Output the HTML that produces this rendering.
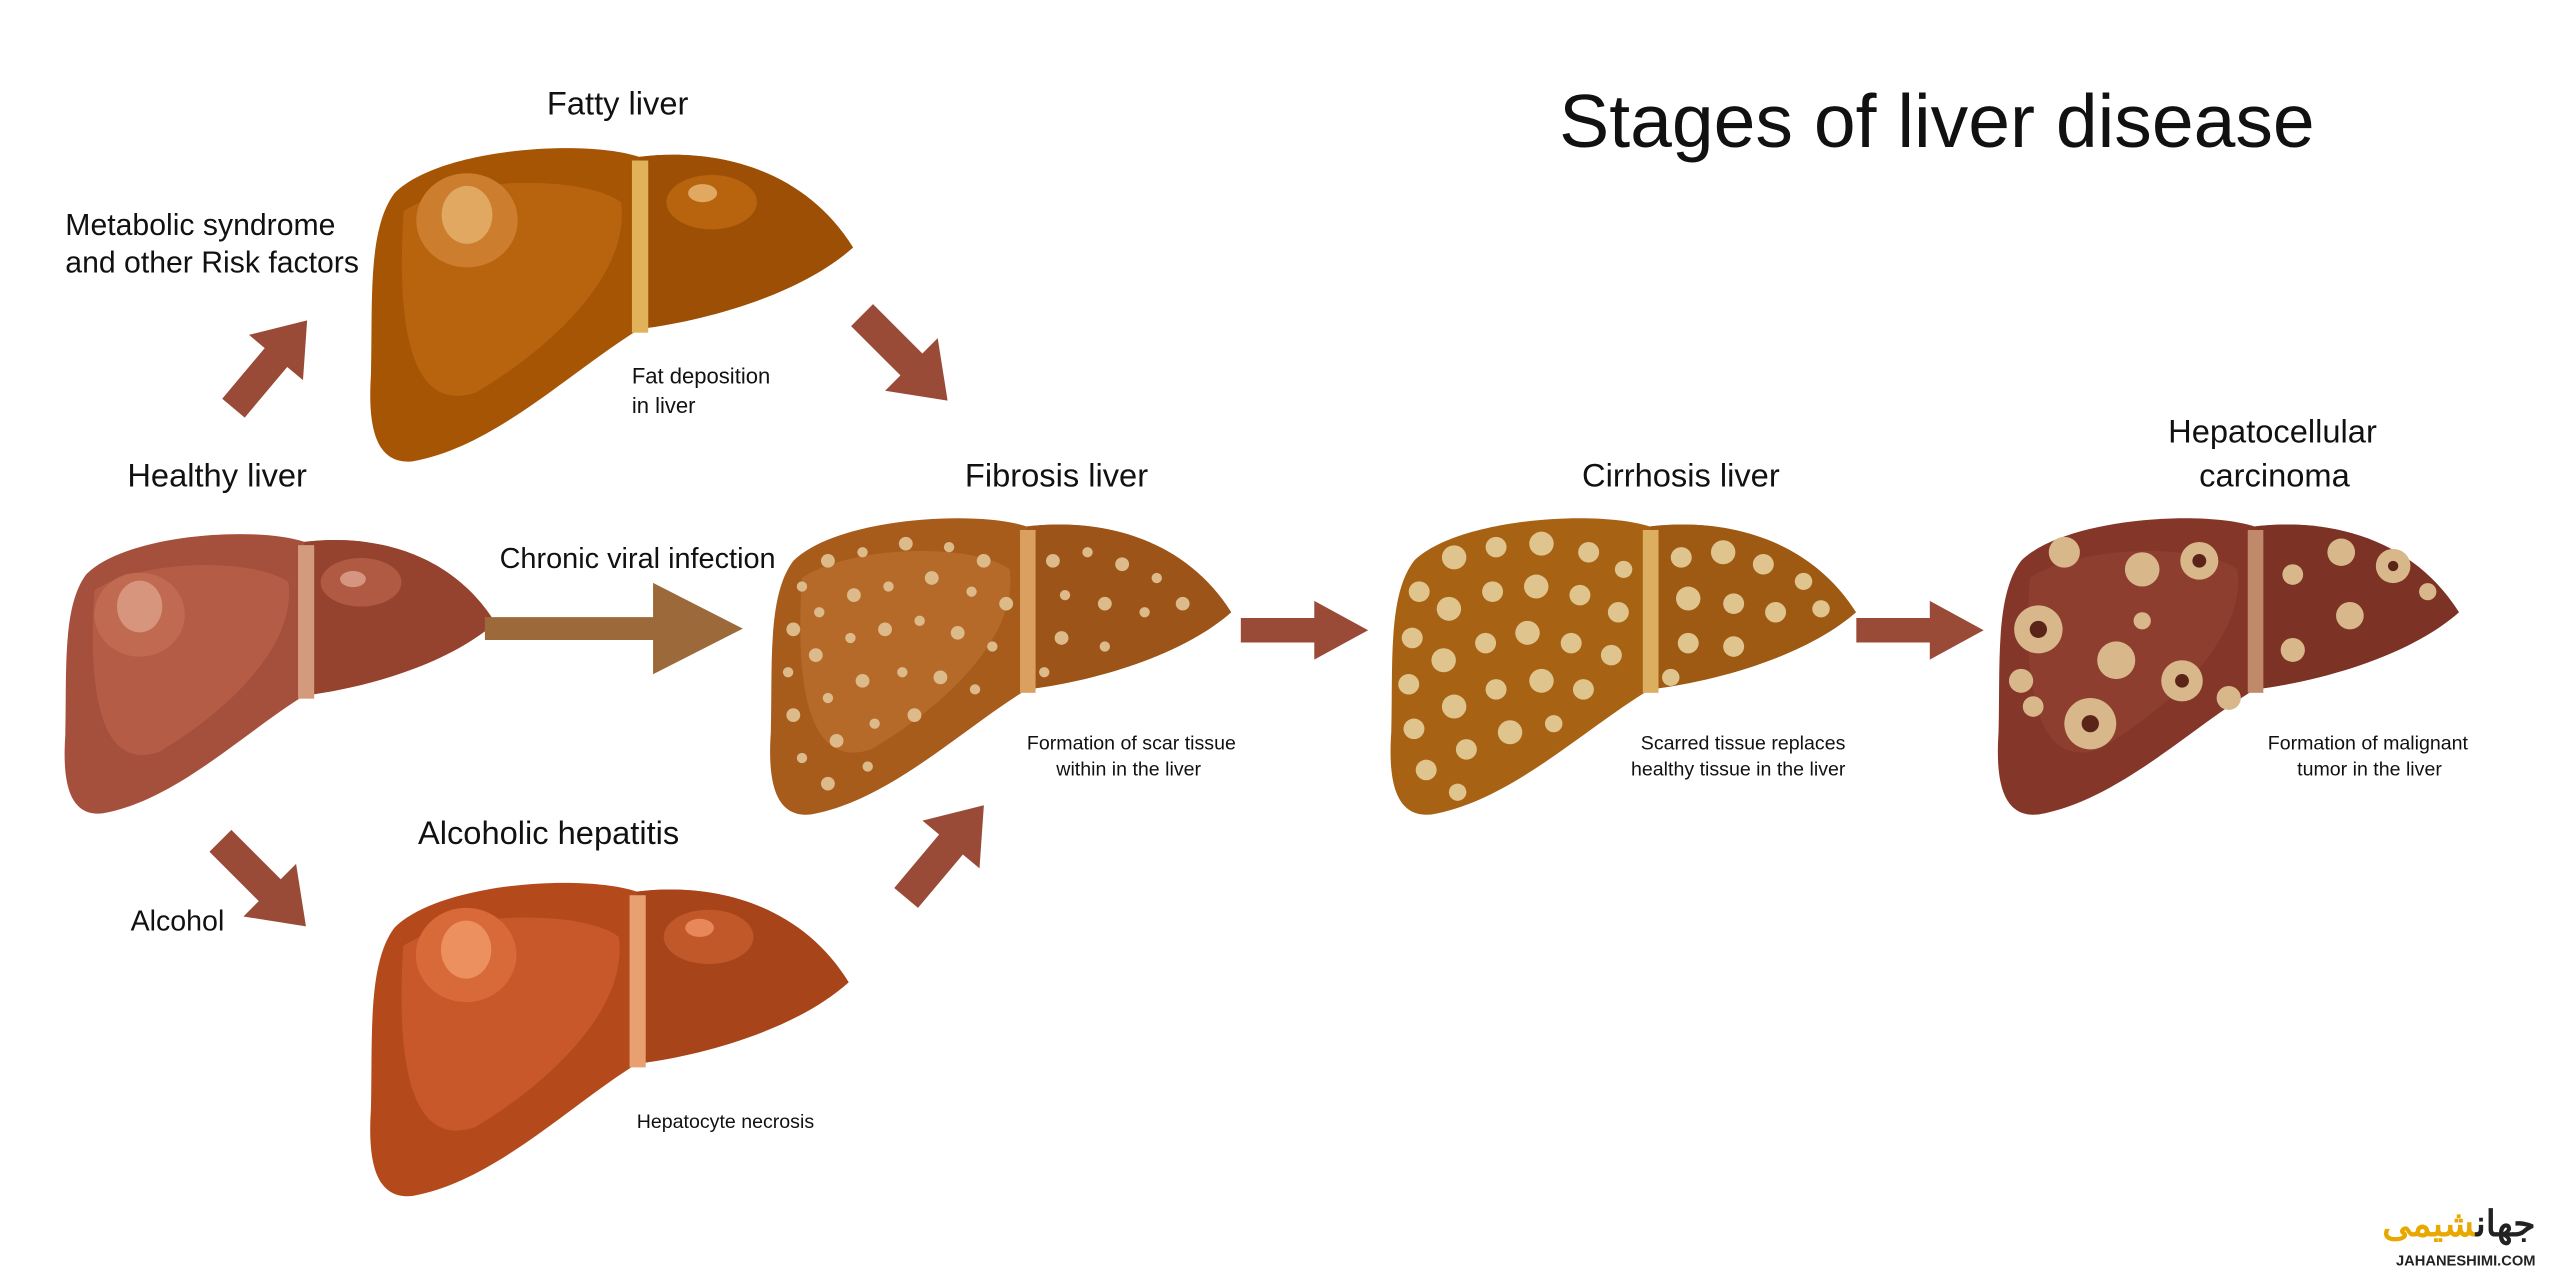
<!DOCTYPE html>
<html><head><meta charset="utf-8"><style>
html,body{margin:0;padding:0;background:#fff;width:2560px;height:1280px;overflow:hidden}
svg{display:block}
text{font-family:"Liberation Sans",sans-serif;fill:#111}
</style></head><body>
<svg width="2560" height="1280" viewBox="0 0 1568 784" xmlns="http://www.w3.org/2000/svg">
<defs>
<path id="lv" d="M15 30 C40 5 120 0 150 10 C190 5 240 15 268 60 C240 85 190 100 150 105 C110 130 70 170 25 178 C5 180 0 160 2 130 C3 90 0 50 15 30 Z"/>
<path id="rl" d="M150 10 C190 5 240 15 268 60 C240 85 190 100 150 105 Z"/>
<path id="ar" d="M0 -10 L45 -10 L45 -24 L78 0 L45 24 L45 10 L0 10 Z"/>
</defs>

<text x="955" y="90" font-size="46">Stages of liver disease</text>

<!-- Healthy -->
<g transform="translate(38,322) scale(0.99,0.99)">
<use href="#lv" fill="#a5503c"/><use href="#rl" fill="#95432f"/>
<path d="M20 40 C50 20 120 20 140 35 C145 70 110 110 60 140 C30 150 15 120 20 40Z" fill="#b45c46"/>
<ellipse cx="48" cy="55" rx="28" ry="26" fill="#c06a52"/><ellipse cx="48" cy="50" rx="14" ry="16" fill="#d8957e"/>
<ellipse cx="185" cy="35" rx="25" ry="15" fill="#b05a44"/><ellipse cx="180" cy="33" rx="8" ry="5" fill="#d69580"/>
<rect x="146" y="12" width="10" height="95" fill="#d49a7c"/>
</g>
<text x="78" y="298" font-size="20">Healthy liver</text>

<!-- Fatty -->
<g transform="translate(225,85) scale(1.11,1.11)">
<use href="#lv" fill="#a65505"/><use href="#rl" fill="#9c4f05"/>
<path d="M20 40 C50 20 120 20 140 35 C145 70 110 110 60 140 C30 150 15 120 20 40Z" fill="#b8630e"/>
<ellipse cx="55" cy="45" rx="28" ry="26" fill="#cc7d2e"/><ellipse cx="55" cy="42" rx="14" ry="16" fill="#e0a860"/>
<ellipse cx="190" cy="35" rx="25" ry="15" fill="#b8630e"/><ellipse cx="185" cy="30" rx="8" ry="5" fill="#e0a860"/>
<rect x="146" y="12" width="9" height="95" fill="#e2b25a"/>
</g>
<text x="335" y="70" font-size="20">Fatty liver</text>
<text x="40" y="144" font-size="18.5">Metabolic syndrome</text>
<text x="40" y="167" font-size="18.5">and other Risk factors</text>
<text x="387" y="235" font-size="13.5">Fat deposition</text>
<text x="387" y="253" font-size="13.5">in liver</text>

<!-- Alcoholic -->
<g transform="translate(225,535) scale(1.1,1.11)">
<use href="#lv" fill="#b44a1c"/><use href="#rl" fill="#a8441a"/>
<path d="M20 40 C50 20 120 20 140 35 C145 70 110 110 60 140 C30 150 15 120 20 40Z" fill="#c8582a"/>
<ellipse cx="55" cy="45" rx="28" ry="26" fill="#d86a3a"/><ellipse cx="55" cy="42" rx="14" ry="16" fill="#ec9060"/>
<ellipse cx="190" cy="35" rx="25" ry="15" fill="#c0582a"/><ellipse cx="185" cy="30" rx="8" ry="5" fill="#e8885a"/>
<rect x="146" y="12" width="9" height="95" fill="#e8a070"/>
</g>
<text x="256" y="517" font-size="20">Alcoholic hepatitis</text>
<text x="80" y="570" font-size="17.5">Alcohol</text>
<text x="390" y="691" font-size="12">Hepatocyte necrosis</text>

<!-- Fibrosis -->
<g transform="translate(470,312) scale(1.06,1.05)">
<use href="#lv" fill="#a85c1c"/><use href="#rl" fill="#9c5418"/>
<path d="M20 40 C50 20 120 20 140 35 C145 70 110 110 60 140 C30 150 15 120 20 40Z" fill="#b66a2a"/>
<rect x="146" y="12" width="9" height="95" fill="#d9a060"/>
<g fill="#dcba8a">
<circle cx="20" cy="45" r="3"/><circle cx="35" cy="30" r="4"/><circle cx="55" cy="25" r="3"/><circle cx="80" cy="20" r="4"/><circle cx="105" cy="22" r="3"/><circle cx="125" cy="30" r="4"/>
<circle cx="15" cy="70" r="4"/><circle cx="30" cy="60" r="3"/><circle cx="50" cy="50" r="4"/><circle cx="70" cy="45" r="3"/><circle cx="95" cy="40" r="4"/><circle cx="118" cy="48" r="3"/><circle cx="138" cy="55" r="4"/>
<circle cx="12" cy="95" r="3"/><circle cx="28" cy="85" r="4"/><circle cx="48" cy="75" r="3"/><circle cx="68" cy="70" r="4"/><circle cx="88" cy="65" r="3"/><circle cx="110" cy="72" r="4"/><circle cx="130" cy="80" r="3"/>
<circle cx="15" cy="120" r="4"/><circle cx="35" cy="110" r="3"/><circle cx="55" cy="100" r="4"/><circle cx="78" cy="95" r="3"/><circle cx="100" cy="98" r="4"/><circle cx="120" cy="105" r="3"/>
<circle cx="20" cy="145" r="3"/><circle cx="40" cy="135" r="4"/><circle cx="62" cy="125" r="3"/><circle cx="85" cy="120" r="4"/><circle cx="35" cy="160" r="4"/><circle cx="58" cy="150" r="3"/>
<circle cx="165" cy="30" r="4"/><circle cx="185" cy="25" r="3"/><circle cx="205" cy="32" r="4"/><circle cx="225" cy="40" r="3"/><circle cx="172" cy="50" r="3"/><circle cx="195" cy="55" r="4"/><circle cx="218" cy="60" r="3"/><circle cx="240" cy="55" r="4"/><circle cx="170" cy="75" r="4"/><circle cx="195" cy="80" r="3"/><circle cx="160" cy="95" r="3"/>
</g></g>
<text x="591" y="298" font-size="20">Fibrosis liver</text>
<text x="629" y="459" font-size="12">Formation of scar tissue</text>
<text x="647" y="475" font-size="12">within in the liver</text>
<text x="306" y="348" font-size="17.7">Chronic viral infection</text>

<!-- Cirrhosis -->
<g transform="translate(850,312) scale(1.07,1.05)">
<use href="#lv" fill="#a86214"/><use href="#rl" fill="#9e5a12"/>
<rect x="146" y="12" width="9" height="95" fill="#dcae60"/>
<g fill="#e0c48e">
<circle cx="18" cy="48" r="6"/><circle cx="38" cy="28" r="7"/><circle cx="62" cy="22" r="6"/><circle cx="88" cy="20" r="7"/><circle cx="115" cy="25" r="6"/><circle cx="135" cy="35" r="5"/>
<circle cx="14" cy="75" r="6"/><circle cx="35" cy="58" r="7"/><circle cx="60" cy="48" r="6"/><circle cx="85" cy="45" r="7"/><circle cx="110" cy="50" r="6"/><circle cx="132" cy="60" r="6"/>
<circle cx="12" cy="102" r="6"/><circle cx="32" cy="88" r="7"/><circle cx="56" cy="78" r="6"/><circle cx="80" cy="72" r="7"/><circle cx="105" cy="78" r="6"/><circle cx="128" cy="85" r="6"/>
<circle cx="15" cy="128" r="6"/><circle cx="38" cy="115" r="7"/><circle cx="62" cy="105" r="6"/><circle cx="88" cy="100" r="7"/><circle cx="112" cy="105" r="6"/>
<circle cx="22" cy="152" r="6"/><circle cx="45" cy="140" r="6"/><circle cx="70" cy="130" r="7"/><circle cx="95" cy="125" r="5"/><circle cx="40" cy="165" r="5"/>
<circle cx="168" cy="28" r="6"/><circle cx="192" cy="25" r="7"/><circle cx="215" cy="32" r="6"/><circle cx="238" cy="42" r="5"/><circle cx="172" cy="52" r="7"/><circle cx="198" cy="55" r="6"/><circle cx="222" cy="60" r="6"/><circle cx="248" cy="58" r="5"/><circle cx="172" cy="78" r="6"/><circle cx="198" cy="80" r="6"/><circle cx="162" cy="98" r="5"/>
</g></g>
<text x="969" y="298" font-size="20">Cirrhosis liver</text>
<text x="1005" y="459" font-size="12">Scarred tissue replaces</text>
<text x="999" y="475" font-size="12">healthy tissue in the liver</text>

<!-- HCC -->
<g transform="translate(1222,312) scale(1.06,1.05)">
<use href="#lv" fill="#843628"/><use href="#rl" fill="#7c3224"/>
<path d="M20 40 C50 20 120 20 140 35 C145 70 110 110 60 140 C30 150 15 120 20 40Z" fill="#8e3e2e"/>
<rect x="146" y="12" width="9" height="95" fill="#c08a6a"/>
<g fill="#d8b88a">
<circle cx="40" cy="25" r="9"/><circle cx="85" cy="35" r="10"/><circle cx="118" cy="30" r="11"/><circle cx="25" cy="70" r="14"/><circle cx="70" cy="88" r="11"/><circle cx="108" cy="100" r="12"/><circle cx="135" cy="110" r="7"/><circle cx="55" cy="125" r="15"/><circle cx="15" cy="100" r="7"/><circle cx="22" cy="115" r="6"/><circle cx="85" cy="65" r="5"/>
<circle cx="172" cy="38" r="6"/><circle cx="200" cy="25" r="8"/><circle cx="230" cy="33" r="10"/><circle cx="205" cy="62" r="8"/><circle cx="172" cy="82" r="7"/><circle cx="250" cy="48" r="5"/>
</g>
<g fill="#5a2418"><circle cx="118" cy="30" r="4"/><circle cx="25" cy="70" r="5"/><circle cx="108" cy="100" r="4"/><circle cx="55" cy="125" r="5"/><circle cx="230" cy="33" r="3"/></g>
</g>
<text x="1328" y="271" font-size="20">Hepatocellular</text>
<text x="1347" y="298" font-size="20">carcinoma</text>
<text x="1389" y="459" font-size="12">Formation of malignant</text>
<text x="1407" y="475" font-size="12">tumor in the liver</text>

<!-- Arrows -->
<g fill="#9a4b38">
<use href="#ar" transform="translate(143,250) rotate(-50) scale(0.9)"/>
<use href="#ar" transform="translate(528,193) rotate(45) scale(0.95)"/>
<use href="#ar" transform="translate(135,515) rotate(45) scale(0.95)"/>
<use href="#ar" transform="translate(555,550) rotate(-50) scale(0.95)"/>
<use href="#ar" transform="translate(760,386) scale(1.0,0.75)"/>
<use href="#ar" transform="translate(1137,386) scale(1.0,0.75)"/>
</g>
<path d="M297 378 L400 378 L400 357 L455 385 L400 413 L400 392 L297 392 Z" fill="#9c6a3a"/>

<text x="1553" y="757" font-size="22" font-weight="bold" text-anchor="end" style="fill:#222">جهان<tspan style="fill:#e8a800">شیمی</tspan></text>
<text x="1553" y="775" font-size="9" font-weight="bold" text-anchor="end" style="fill:#222">JAHANESHIMI.COM</text>
</svg>
</body></html>
